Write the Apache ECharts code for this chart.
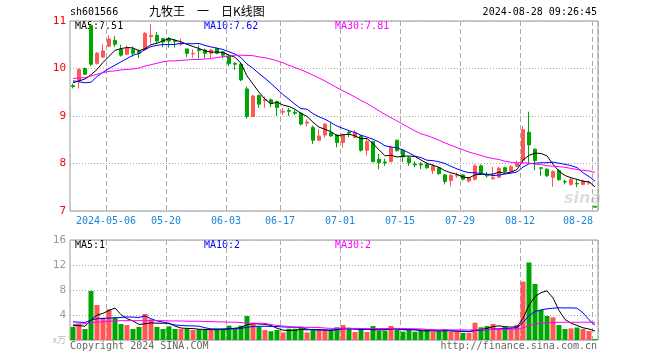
<!DOCTYPE html>
<html><head><meta charset="utf-8">
<script src="https://cdn.jsdelivr.net/npm/echarts@6/dist/echarts.min.js"></script>
<style>html,body{margin:0;padding:0;background:#fff}#c{width:660px;height:360px}</style>
</head><body><div id="c"></div>
<script>
const dates = [
'2024-04-23','2024-04-24','2024-04-25','2024-04-26','2024-04-29','2024-04-30',
'2024-05-06','2024-05-07','2024-05-08','2024-05-09','2024-05-10','2024-05-13','2024-05-14','2024-05-15','2024-05-16','2024-05-17',
'2024-05-20','2024-05-21','2024-05-22','2024-05-23','2024-05-24','2024-05-27','2024-05-28','2024-05-29','2024-05-30','2024-05-31',
'2024-06-03','2024-06-04','2024-06-05','2024-06-06','2024-06-07','2024-06-11','2024-06-12','2024-06-13','2024-06-14',
'2024-06-17','2024-06-18','2024-06-19','2024-06-20','2024-06-21','2024-06-24','2024-06-25','2024-06-26','2024-06-27','2024-06-28',
'2024-07-01','2024-07-02','2024-07-03','2024-07-04','2024-07-05','2024-07-08','2024-07-09','2024-07-10','2024-07-11','2024-07-12',
'2024-07-15','2024-07-16','2024-07-17','2024-07-18','2024-07-19','2024-07-22','2024-07-23','2024-07-24','2024-07-25','2024-07-26',
'2024-07-29','2024-07-30','2024-07-31','2024-08-01','2024-08-02','2024-08-05','2024-08-06','2024-08-07','2024-08-08','2024-08-09',
'2024-08-12','2024-08-13','2024-08-14','2024-08-15','2024-08-16','2024-08-19','2024-08-20','2024-08-21','2024-08-22','2024-08-23',
'2024-08-26','2024-08-27','2024-08-28'];
const labelDates = ['2024-05-06','2024-05-20','2024-06-03','2024-06-17','2024-07-01','2024-07-15','2024-07-29','2024-08-12','2024-08-28'];

const opens = [9.64,9.74,10.00,10.90,10.11,10.24,10.47,10.59,10.40,10.30,
10.40,10.36,10.40,10.67,10.70,10.63,10.63,10.59,10.51,10.41,
10.31,10.40,10.39,10.32,10.42,10.35,10.26,10.11,10.09,9.57,
8.99,9.43,9.33,9.34,9.30,9.08,9.12,9.08,9.06,8.85,
8.76,8.49,8.60,8.65,8.60,8.44,8.66,8.55,8.58,8.28,
8.46,8.09,8.03,8.04,8.49,8.28,8.12,7.99,7.99,7.98,
7.85,7.91,7.76,7.64,7.74,7.76,7.63,7.67,7.95,7.76,
7.68,7.71,7.91,7.84,7.94,8.07,8.66,8.30,7.91,7.88,
7.71,7.85,7.62,7.56,7.58,7.56,7.59,7.10];
const closes = [9.62,9.98,9.88,10.09,10.32,10.37,10.62,10.51,10.28,10.43,
10.32,10.32,10.74,10.70,10.58,10.56,10.58,10.57,10.52,10.32,
10.32,10.38,10.32,10.39,10.32,10.28,10.10,10.09,9.76,8.99,
9.42,9.25,9.35,9.27,9.18,9.10,9.10,9.06,8.83,8.87,
8.49,8.58,8.83,8.58,8.44,8.60,8.64,8.65,8.28,8.46,
8.04,8.02,8.01,8.34,8.27,8.14,8.02,7.97,7.97,7.91,
7.95,7.79,7.62,7.75,7.75,7.67,7.69,7.95,7.80,7.74,
7.70,7.90,7.83,7.93,8.00,8.71,8.39,8.06,7.90,7.74,
7.83,7.66,7.61,7.66,7.57,7.63,7.60,7.08];
const lows = [9.58,9.58,9.86,10.05,10.08,10.22,10.45,10.45,10.25,10.28,
10.25,10.22,10.38,10.53,10.53,10.45,10.44,10.44,10.48,10.24,
10.23,10.21,10.21,10.22,10.30,10.21,10.05,9.97,9.73,8.94,
8.98,9.17,9.17,9.19,9.00,9.02,9.00,9.02,8.80,8.78,
8.41,8.47,8.55,8.56,8.34,8.33,8.55,8.53,8.25,8.17,
8.02,7.88,7.95,8.02,8.25,8.03,7.95,7.92,7.88,7.89,
7.78,7.76,7.56,7.52,7.70,7.64,7.60,7.64,7.78,7.70,
7.66,7.70,7.80,7.80,7.92,7.99,8.00,7.86,7.74,7.72,
7.51,7.63,7.56,7.53,7.50,7.54,7.55,7.08];
const highs = [9.68,10.00,10.02,10.90,10.35,10.51,10.70,10.68,10.50,10.49,
10.46,10.40,10.77,10.94,10.77,10.64,10.66,10.62,10.63,10.42,
10.40,10.49,10.42,10.41,10.44,10.37,10.30,10.13,10.12,9.62,
9.44,9.45,9.41,9.37,9.32,9.17,9.17,9.13,9.08,8.93,
8.80,8.72,8.85,8.86,8.62,8.63,8.70,8.70,8.60,8.51,
8.48,8.20,8.10,8.37,8.50,8.30,8.15,8.04,8.03,8.02,
7.99,7.93,7.78,7.78,7.81,7.78,7.72,7.99,7.98,7.82,
7.93,7.93,7.93,7.97,8.06,8.79,9.09,8.32,7.92,7.90,
7.86,7.88,7.66,7.70,7.66,7.66,7.64,7.10];
const volumes = [2.1,2.56,1.76,7.84,5.6,3.57,4.9,3.63,2.56,2.4,
1.76,2.1,4.16,3.3,2.1,1.76,2.2,1.76,1.76,1.8,
1.6,1.7,1.6,1.6,1.8,1.8,2.3,1.9,2.3,3.84,
2.7,2.1,1.6,1.4,1.6,1.2,1.8,1.8,2.1,1.2,
1.6,1.6,1.6,1.6,2.03,2.4,1.76,1.28,1.71,1.28,
2.24,1.49,1.49,2.24,1.71,1.33,1.6,1.33,1.44,1.6,
1.33,1.33,1.76,1.33,1.33,1.12,1.12,2.77,2.03,2.24,
2.56,1.71,2.1,1.71,2.4,9.33,12.4,8.96,4.8,3.84,
3.63,2.4,1.76,1.86,2.0,1.76,1.44,0.16];

// moving-average values for the first days (prior history not shown)
const ma5Head = [9.70,9.74,9.78,9.87];
const ma10Head = [9.74,9.72,9.70,9.71,9.83,9.92,10.00,10.07,10.14];
const ma30Head = [9.79,9.80,9.81,9.84,9.88,9.91,9.94,9.95,9.97,9.98,9.99,10.01,10.05,10.08,10.11,10.14,10.16,10.16,10.17,10.18,10.19,10.19,10.20,10.21,10.23,10.25,10.26,10.28,10.28];
const vma5Head = [2.3,2.3,2.2,3.2];
const vma10Head = [2.9,2.85,2.8,3.2,3.4,3.45,3.5,3.55,3.6];
const vma30Head = [2.5,2.55,2.6,2.75,2.85,2.95,3.0,3.05,3.1,3.1,3.1,3.1,3.1,3.1,3.1,3.1,3.05,3.05,3.05,3.0,3.0,3.0,2.95,2.95,2.9,2.9,2.85,2.85,2.8];

const yTicksMain = [7, 11, 1];
const yTicksVol = [0, 16, 4];

function ma(arr, n, head) {
  return arr.map((v, i) => {
    if (i < n - 1) return head[i];
    let s = 0; for (let k = i - n + 1; k <= i; k++) s += arr[k];
    return +(s / n).toFixed(3);
  });
}
const RED = '#ff5656', GREEN = '#00a600';
const up = closes.map((c, i) => c >= opens[i]);
const candles = dates.map((d, i) => [opens[i], closes[i], lows[i], highs[i]]);
const labelIdx = new Set(labelDates.map(d => dates.indexOf(d)));
const MONO = '"DejaVu Sans Mono", "Liberation Mono", monospace';

const chart = echarts.init(document.getElementById('c'), null, {renderer: 'canvas'});
const splitV = {show: true, interval: (i) => labelIdx.has(i), lineStyle: {color: '#aaa', type: [5, 3], width: 1}};
const option = {
  animation: false,
  backgroundColor: '#fff',
  grid: [
    {left: 70, top: 21, width: 528, height: 190, show: true, borderColor: '#999', borderWidth: 1, backgroundColor: 'transparent'},
    {left: 70, top: 240, width: 528, height: 100, show: true, borderColor: '#999', borderWidth: 1, backgroundColor: 'transparent'}
  ],
  xAxis: [
    {type: 'category', gridIndex: 0, data: dates, boundaryGap: true,
     axisLine: {show: false}, axisTick: {show: false}, splitLine: splitV,
     axisLabel: {interval: (i) => labelIdx.has(i), margin: 5, fontFamily: MONO, fontSize: 10, color: '#1a87d8',
       formatter: (v, i) => i === dates.length - 1 ? '{b|' + v.slice(5) + '}' : '{a|' + (i === 6 ? v : v.slice(5)) + '}',
       rich: {a: {padding: [0, 6, 0, 0], fontFamily: MONO, fontSize: 10, color: '#1a87d8'},
              b: {padding: [0, 34, 0, 0], fontFamily: MONO, fontSize: 10, color: '#1a87d8'}}}},
    {type: 'category', gridIndex: 1, data: dates, boundaryGap: true,
     axisLine: {show: false}, axisTick: {show: false}, axisLabel: {show: false}, splitLine: splitV}
  ],
  yAxis: [
    {type: 'value', gridIndex: 0, min: yTicksMain[0], max: yTicksMain[1], interval: yTicksMain[2],
     axisLine: {show: false}, axisTick: {show: false},
     axisLabel: {margin: 4, fontFamily: MONO, fontSize: 11, color: '#f00'},
     splitLine: {show: true, lineStyle: {color: '#aaa', type: [1, 2], width: 1}}},
    {type: 'value', gridIndex: 1, min: yTicksVol[0], max: yTicksVol[1], interval: yTicksVol[2],
     axisLine: {show: false}, axisTick: {show: false},
     axisLabel: {margin: 4, fontFamily: MONO, fontSize: 11, color: '#999',
       formatter: (v) => v === 0 ? '{u|x万}' : String(v),
       rich: {u: {fontFamily: '"Noto Sans CJK SC", sans-serif', fontSize: 9, color: '#bbb'}}},
     splitLine: {show: true, lineStyle: {color: '#aaa', type: [1, 2], width: 1}}}
  ],
  series: [
    {type: 'candlestick', xAxisIndex: 0, yAxisIndex: 0, data: candles, barWidth: 4,
     itemStyle: {color: RED, color0: GREEN, borderColor: RED, borderColor0: GREEN, borderWidth: 1}},
    {type: 'line', xAxisIndex: 0, yAxisIndex: 0, data: ma(closes, 5, ma5Head), symbol: 'none', lineStyle: {color: '#000', width: 1}, silent: true},
    {type: 'line', xAxisIndex: 0, yAxisIndex: 0, data: ma(closes, 10, ma10Head), symbol: 'none', lineStyle: {color: '#00f', width: 1}, silent: true},
    {type: 'line', xAxisIndex: 0, yAxisIndex: 0, data: ma(closes, 30, ma30Head), symbol: 'none', lineStyle: {color: '#f0f', width: 1}, silent: true},
    {type: 'bar', xAxisIndex: 1, yAxisIndex: 1, data: volumes, barWidth: 5,
     itemStyle: {color: (p) => up[p.dataIndex] ? RED : GREEN}},
    {type: 'line', xAxisIndex: 1, yAxisIndex: 1, data: ma(volumes, 5, vma5Head), symbol: 'none', lineStyle: {color: '#000', width: 1}, silent: true},
    {type: 'line', xAxisIndex: 1, yAxisIndex: 1, data: ma(volumes, 10, vma10Head), symbol: 'none', lineStyle: {color: '#00f', width: 1}, silent: true},
    {type: 'line', xAxisIndex: 1, yAxisIndex: 1, data: ma(volumes, 30, vma30Head), symbol: 'none', lineStyle: {color: '#f0f', width: 1}, silent: true}
  ],
  graphic: [
    {type: 'text', left: 70, top: 7, style: {text: 'sh601566', font: '10px ' + MONO, fill: '#000'}},
    {type: 'text', left: 149, top: 5, style: {text: '九牧王　一　日K线图', font: '12px "Noto Sans CJK SC", sans-serif', fill: '#000'}},
    {type: 'text', right: 63, top: 7, style: {text: '2024-08-28 09:26:45', font: '10px ' + MONO, fill: '#000'}},
    {type: 'text', left: 75, top: 21, style: {text: 'MA5:7.51', font: '10px ' + MONO, fill: '#000'}},
    {type: 'text', left: 204, top: 21, style: {text: 'MA10:7.62', font: '10px ' + MONO, fill: '#00f'}},
    {type: 'text', left: 335, top: 21, style: {text: 'MA30:7.81', font: '10px ' + MONO, fill: '#f0f'}},
    {type: 'text', left: 75, top: 240, style: {text: 'MA5:1', font: '10px ' + MONO, fill: '#000'}},
    {type: 'text', left: 204, top: 240, style: {text: 'MA10:2', font: '10px ' + MONO, fill: '#00f'}},
    {type: 'text', left: 335, top: 240, style: {text: 'MA30:2', font: '10px ' + MONO, fill: '#f0f'}},
    {type: 'text', left: 70, top: 341, style: {text: 'Copyright 2024 SINA.COM', font: '10px ' + MONO, fill: '#666'}},
    {type: 'text', right: 63, top: 341, style: {text: 'http://finance.sina.com.cn', font: '10px ' + MONO, fill: '#666'}},
    {type: 'text', left: 564, top: 191, style: {text: 'sina', font: 'italic bold 16px "DejaVu Sans", sans-serif', fill: 'rgba(160,160,160,0.35)'}}
  ]
};
chart.setOption(option);
</script></body></html>
